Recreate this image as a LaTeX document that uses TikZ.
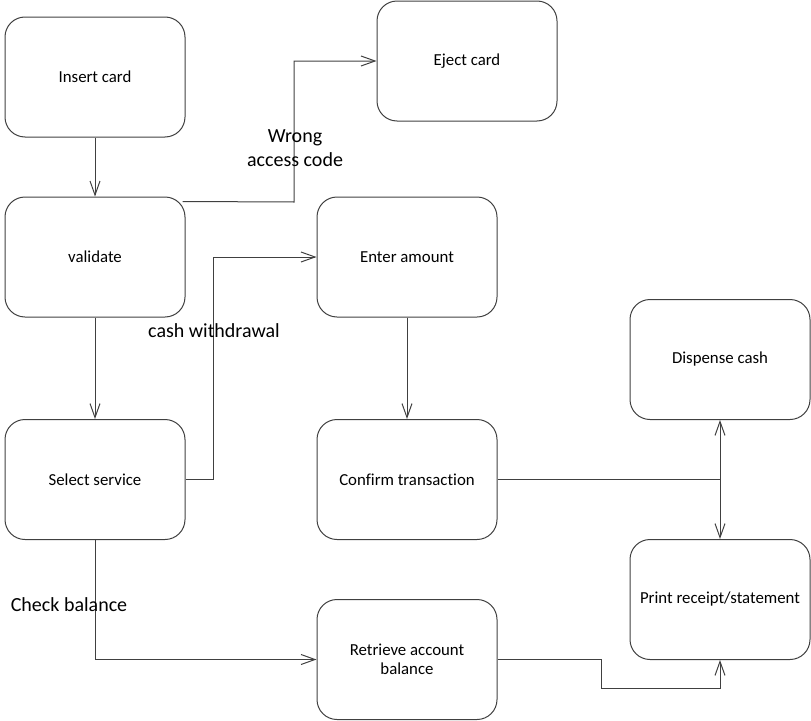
\documentclass[tikz,border=0pt]{standalone}
\usepackage{fontspec}
\setmainfont{Carlito}[Ligatures={NoCommon}]
\usetikzlibrary{arrows.meta,calc}
\definecolor{ln}{HTML}{404040}
\tikzset{
  stepbox/.style={draw=ln, line width=1pt, rounded corners=20pt, minimum width=180pt, minimum height=120pt, align=center, font=\fontsize{16.8}{19.5}\selectfont, inner sep=2pt},
  conn/.style={draw=ln, line width=1pt, -{Straight Barb[length=14pt,width=10pt,line width=1pt]}},
  plain/.style={draw=ln, line width=1pt},
  lbl/.style={font=\fontsize{20}{24}\selectfont, align=center, inner sep=0pt}
}
\begin{document}
\begin{tikzpicture}[x=1pt,y=-1pt]
\useasboundingbox (0,0) rectangle (811,720);
\node[stepbox] (insert) at (95,77) {Insert card};
\node[stepbox] (eject) at (467,61) {Eject card};
\node[stepbox] (validate) at (95,257) {validate};
\node[stepbox] (enter) at (407,257) {Enter amount};
\node[stepbox] (dispense) at (720,359.5) {Dispense cash};
\node[stepbox] (select) at (95,479.5) {Select service};
\node[stepbox] (confirm) at (407,479.5) {Confirm transaction};
\node[stepbox] (print) at (720,599.5) {Print receipt/statement};
\node[stepbox] (retrieve) at (407,659.5) {Retrieve account\\balance};

\coordinate (vstart) at ($(validate.north east)+(-3,5)$);
\coordinate (j) at (720,479.5);

\draw[conn] (insert) -- (validate);
\draw[conn] (vstart) -- (294,202) |- (eject.west);
\draw[conn] (validate) -- (select);
\draw[conn] (select.east) -- (213,479.5) |- (enter.west);
\draw[conn] (enter) -- (confirm);
\draw[plain] (confirm.east) -- (j);
\draw[conn] (j) -- (dispense.south);
\draw[conn] (j) -- (print.north);
\draw[conn] (select.south) |- (retrieve.west);
\draw[conn] (retrieve.east) -- (601,659.5) -- (601,688) -| (print.south);

\node[lbl] (l1) at (295,148) {Wrong\\access code};
\node[lbl] (l2) at (214,331) {cash withdrawal};
\node[lbl] (l3) at (69,605) {Check balance};
\end{tikzpicture}
\end{document}
